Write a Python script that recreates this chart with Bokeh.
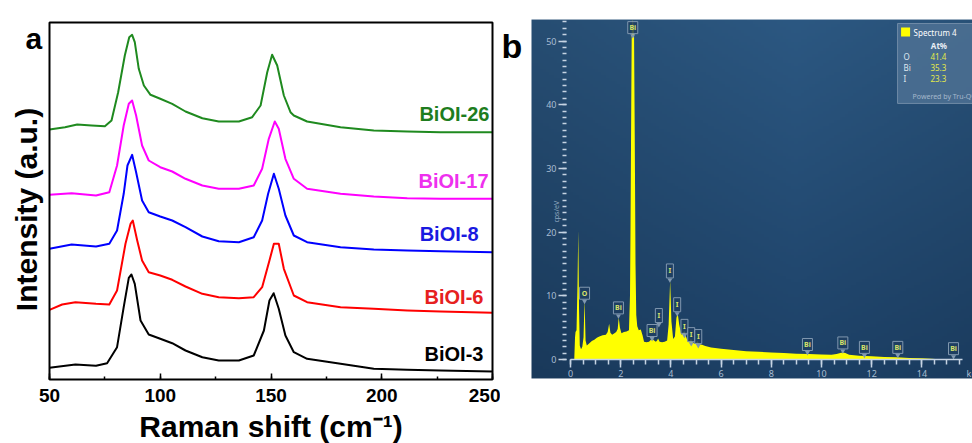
import numpy as np
from bokeh.plotting import figure
from bokeh.models import Range1d, SingleIntervalTicker, FixedTicker, LinearAxis
from bokeh.layouts import row
from bokeh.embed import file_html
from bokeh.resources import INLINE
from bokeh.core.properties import value

# ---------------- Raman spectra (stacked, a.u.) ----------------
bioi3_x = [50, 61.7, 71, 76, 80.5, 83.5, 85.8, 87, 88.5, 91.1, 94.8, 100, 105.4, 111.4, 119,
           126.4, 135.5, 142.2, 146.8, 149.3, 151.2, 153.5, 156.5, 160.3, 166.3, 181.4, 196.4,
           211.5, 226.5, 250]
bioi3_y = [11.7, 15, 13.7, 16.3, 32.3, 72.3, 101.7, 105, 95.7, 59, 45, 40.7, 36.3, 29, 22.3,
           19, 19, 24, 49, 79, 86.3, 70.7, 44, 27.3, 20.7, 15.7, 10.7, 9.7, 9, 8]

bioi6_x = [50, 55.7, 61.7, 71, 77, 80.5, 84.3, 86.6, 87.6, 89.6, 91.8, 94.8, 100, 105.4, 111.4,
           119, 126.4, 135.5, 142.2, 146, 149.3, 151.3, 153.5, 155.8, 160.3, 166.3, 181.4, 196.4,
           211.5, 226.5, 250]
bioi6_y = [69.7, 75, 77.3, 75.7, 75, 89, 135.7, 155.7, 159, 139, 119, 107.3, 104, 99.7, 93,
           85.7, 82.3, 81.3, 82.3, 92.3, 119, 135.7, 135.7, 110.7, 84, 77.3, 72.3, 70.7,
           69, 68, 66.7]

bioi8_x = [50, 60, 71, 77, 80.5, 83.5, 85.2, 87.3, 89.1, 91.8, 94.8, 100, 105.4, 111.4, 119,
           126.4, 135.5, 142.2, 146, 148.7, 151.3, 153.5, 156.5, 160.3, 166.3, 181.4, 196.4,
           211.5, 226.5, 250]
bioi8_y = [130.7, 135, 133, 135.7, 149, 185.7, 214, 224.7, 207.3, 179, 167.3, 163, 159, 152.3,
           143, 138.3, 137.3, 142.3, 159, 185.7, 205.7, 190.7, 164, 144, 137.3, 132.3, 130,
           129, 128.3, 127.3]

bioi17_x = [50, 60, 71, 77, 80.5, 83.5, 85.8, 87.3, 89.1, 91.8, 94.8, 100, 105.4, 111.4, 119,
            126.4, 135.5, 142.2, 146, 149, 151.7, 153.5, 156.5, 160.3, 166.3, 181.4, 196.4,
            211.5, 226.5, 250]
bioi17_y = [184.7, 186.3, 184, 187.3, 214, 254, 275.7, 279, 264, 234, 219, 212.3, 208, 200.7,
            194, 190.7, 190.7, 194, 210.7, 240.7, 258, 250.7, 220.7, 200.7, 190.7, 185.7, 183,
            181.3, 180.7, 180.7]

bioi26_x = [50, 57, 62.5, 69, 75, 78, 81, 84, 86, 87.3, 88.5, 90.3, 92.6, 95.6, 100, 105.4,
            111.4, 119, 126.4, 135.5, 141.5, 145.3, 148.3, 150.5, 152.8, 155.8, 158.8, 160.3,
            166.3, 181.4, 196.4, 211.5, 226.5, 250]
bioi26_y = [250, 252.3, 255, 254, 253.3, 259, 287.3, 324, 342.3, 344.7, 337.3, 310.7, 294,
            284.7, 280.7, 275.7, 268, 261.3, 258, 258, 262.3, 274, 307.3, 324.7, 314, 284,
            267.3, 264, 258, 252.3, 249, 248, 247.3, 247.3]

sample_names = ["BiOI-3", "BiOI-6", "BiOI-8", "BiOI-17", "BiOI-26"]
line_colors = ["#000000", "#ff0000", "#0000ff", "#ff00ff", "#1f8a1f"]
label_colors = ["#000000", "#e62020", "#1a1ae0", "#ee30ee", "#1e7d1e"]
label_x = [245.9, 245.9, 243.7, 248.2, 248.6]
label_y = [26, 83, 146, 199, 266]

# ---------------- EDS spectrum ----------------
eds_energy = [0.15, 0.18, 0.20, 0.24, 0.28, 0.31, 0.34, 0.37, 0.42, 0.47,
              0.52, 0.56, 0.60, 0.65, 0.74, 0.85, 0.95, 1.05, 1.15, 1.28,
              1.41, 1.48, 1.54, 1.59, 1.66, 1.75, 1.82, 1.88, 1.92, 1.97,
              2.03, 2.13, 2.23, 2.33, 2.37, 2.39, 2.42, 2.44, 2.48, 2.53,
              2.56, 2.59, 2.62, 2.66, 2.72, 2.80, 2.87, 2.93, 3.03, 3.13,
              3.20, 3.26, 3.33, 3.40, 3.45, 3.49, 3.55, 3.65, 3.75, 3.85,
              3.91, 3.97, 4.02, 4.09, 4.16, 4.22, 4.27, 4.33, 4.42, 4.49,
              4.54, 4.60, 4.68, 4.75, 4.80, 4.86, 4.93, 5.00, 5.06, 5.13,
              5.24, 5.37, 5.6, 6.0, 6.5, 7.0, 7.5, 8.0, 8.5, 9.0,
              9.5, 10.0, 10.4, 10.6, 10.75, 10.84, 10.95, 11.1, 11.5, 12.0,
              12.5, 13.0, 13.5, 14.0, 14.4, 14.8]
eds_counts = [0, 3.5, 4.3, 4.6, 12, 20.3, 8, 2.2, 1.6, 2.0,
              3.5, 9.4, 3.0, 2.2, 2.5, 2.9, 3.1, 3.4, 3.6, 3.8,
              3.9, 4.3, 5.6, 4.2, 3.9, 4.1, 4.3, 4.8, 6.6, 5.0,
              4.1, 4.3, 4.4, 4.6, 10, 20, 40, 52, 53.3, 52,
              35, 15, 7, 5.2, 4.6, 4.7, 3.8, 2.8, 2.7, 2.8,
              3.1, 3.3, 3.0, 2.8, 3.0, 3.3, 2.8, 2.7, 2.8, 3.0,
              5.5, 12.4, 6, 3.2, 3.6, 6.5, 7.3, 5.5, 3.9, 4.2,
              4.5, 3.6, 2.8, 2.9, 3.3, 2.7, 2.5, 2.6, 2.9, 2.4,
              2.3, 2.1, 1.9, 1.7, 1.5, 1.3, 1.2, 1.1, 1.0, 0.9,
              0.85, 0.8, 0.75, 0.85, 1.0, 1.1, 1.0, 0.75, 0.6, 0.5,
              0.4, 0.35, 0.25, 0.2, 0.1, 0]

# peak identification tags
tag_energy = [2.48, 0.56, 1.91, 3.25, 3.52, 3.96, 4.25, 4.54, 4.81, 5.09, 9.44, 10.85, 11.71, 13.04, 15.26]
tag_level = [52.1, 10.4, 8.1, 4.55, 6.9, 13.9, 8.6, 5.2, 3.9, 3.6, 2.35, 2.6, 1.9, 1.9, 1.7]
tag_text = ["Bi", "O", "Bi", "Bi", "I", "I", "I", "I", "I", "I", "Bi", "Bi", "Bi", "Bi", "Bi"]

# quantification table
quant_elements = ["O", "Bi", "I"]
quant_at_pct = ["41.4", "35.3", "23.3"]

BOLD = value("Liberation Sans")
UI = value("Noto Sans")

# ================= panel a : Raman =================
# the frame spans the whole canvas; axes sit at fixed data locations
pa = figure(width=500, height=443, x_range=Range1d(27.878, 253.61), y_range=Range1d(-64, 379),
            output_backend="svg", toolbar_location=None,
            x_axis_location=None, y_axis_location=None,
            min_border=0, min_border_left=0, min_border_right=0,
            min_border_top=0, min_border_bottom=0)
pa.xgrid.visible = False
pa.ygrid.visible = False
pa.outline_line_color = None
pa.background_fill_color = "white"

for xs, ys, c in zip([bioi3_x, bioi6_x, bioi8_x, bioi17_x, bioi26_x],
                     [bioi3_y, bioi6_y, bioi8_y, bioi17_y, bioi26_y], line_colors):
    pa.line(xs, ys, line_color=c, line_width=2, line_join="round")

pa.text(x=label_x, y=label_y, text=sample_names, text_color=label_colors,
        text_font=BOLD, text_font_style="bold", text_font_size="20px",
        text_align="right", text_baseline="middle")

raman_x_axis = LinearAxis(fixed_location=0, bounds=(50, 250),
                          ticker=SingleIntervalTicker(interval=50, num_minor_ticks=2))
raman_x_axis.axis_line_color = None
raman_x_axis.major_tick_in = 6
raman_x_axis.major_tick_out = 0
raman_x_axis.minor_tick_in = 3
raman_x_axis.minor_tick_out = 0
raman_x_axis.major_tick_line_width = 1.5
raman_x_axis.minor_tick_line_width = 1.5
raman_x_axis.major_label_text_font = "Liberation Sans"
raman_x_axis.major_label_text_font_style = "bold"
raman_x_axis.major_label_text_font_size = "19px"
raman_x_axis.major_label_text_color = "black"
raman_x_axis.major_label_standoff = 9
raman_x_axis.axis_label = "Raman shift (cm\u207b\u00b9)"
raman_x_axis.axis_label_text_font = "Liberation Sans"
raman_x_axis.axis_label_text_font_style = "bold"
raman_x_axis.axis_label_text_font_size = "30px"
raman_x_axis.axis_label_text_color = "black"
raman_x_axis.axis_label_standoff = 5
pa.add_layout(raman_x_axis, "below")

raman_y_axis = LinearAxis(fixed_location=50, bounds=(0, 340), ticker=FixedTicker(ticks=[]))
raman_y_axis.axis_line_color = None
raman_y_axis.major_tick_line_color = None
raman_y_axis.minor_tick_line_color = None
raman_y_axis.axis_label = "Intensity (a.u.)"
raman_y_axis.axis_label_text_font = "Liberation Sans"
raman_y_axis.axis_label_text_font_style = "bold"
raman_y_axis.axis_label_text_font_size = "30px"
raman_y_axis.axis_label_text_color = "black"
raman_y_axis.axis_label_standoff = 7
pa.add_layout(raman_y_axis, "left")

# plot box
pa.quad(left=[50], right=[250], bottom=[0], top=[357], fill_color=None,
        line_color="black", line_width=2)

pa.text(x=[39.2], y=[341], text=["a"], text_font=BOLD, text_font_style="bold",
        text_font_size="30px", text_color="black", text_baseline="alphabetic")

# ================= panel b : EDS =================
pb = figure(width=472, height=443, x_range=Range1d(-2.789, 16.016), y_range=Range1d(-13.19, 56.36),
            output_backend="svg", toolbar_location=None,
            x_axis_location=None, y_axis_location=None,
            min_border=0, min_border_left=0, min_border_right=0,
            min_border_top=0, min_border_bottom=0)
pb.xgrid.visible = False
pb.ygrid.visible = False
pb.outline_line_color = None
pb.background_fill_color = "white"

# dark blue backdrop with a soft vertical/horizontal shading
H, W = 120, 160
yy = np.linspace(0, 1, H)[:, None]          # 0 bottom .. 1 top
xx = np.linspace(0, 1, W)[None, :]
top = np.array([44, 88, 130], dtype=float)
bot = np.array([29, 65, 103], dtype=float)
shade = 1.0 - 0.10 * np.abs(xx - 0.6) * 2.0
rgb = (bot[None, None, :] + (top - bot)[None, None, :] * yy[..., None]) * shade[..., None]
rgb = np.clip(rgb, 0, 255).astype(np.uint32)
img = (255 << 24) | (rgb[..., 2] << 16) | (rgb[..., 1] << 8) | rgb[..., 0]
pb.image_rgba(image=[img.astype(np.uint32)], x=-1.554, y=-2.98, dw=17.57, dh=56.35)

pb.varea(x=eds_energy, y1=[0] * len(eds_energy), y2=eds_counts, fill_color="#ffff00")

eds_y_axis = LinearAxis(fixed_location=-0.16, bounds=(0, 53.4),
                        ticker=SingleIntervalTicker(interval=10, num_minor_ticks=10))
eds_y_axis.axis_line_color = None
eds_y_axis.major_tick_out = 8
eds_y_axis.major_tick_in = 0
eds_y_axis.minor_tick_out = 4
eds_y_axis.minor_tick_in = 0
eds_y_axis.major_tick_line_color = "#c6d4e3"
eds_y_axis.minor_tick_line_color = "#c6d4e3"
eds_y_axis.major_tick_line_width = 1.5
eds_y_axis.minor_tick_line_width = 1.5
eds_y_axis.major_label_text_font = "Noto Sans"
eds_y_axis.major_label_text_font_size = "9px"
eds_y_axis.major_label_text_color = "#a9bdd2"
eds_y_axis.major_label_standoff = 2
pb.add_layout(eds_y_axis, "left")

eds_x_axis = LinearAxis(fixed_location=0, bounds=(0, 15.6),
                        ticker=SingleIntervalTicker(interval=2, num_minor_ticks=4))
eds_x_axis.axis_line_color = "#c6d4e3"
eds_x_axis.axis_line_width = 1.5
eds_x_axis.major_tick_out = 8
eds_x_axis.major_tick_in = 0
eds_x_axis.minor_tick_out = 5
eds_x_axis.minor_tick_in = 0
eds_x_axis.major_tick_line_color = "#c6d4e3"
eds_x_axis.minor_tick_line_color = "#c6d4e3"
eds_x_axis.major_tick_line_width = 1.5
eds_x_axis.minor_tick_line_width = 1.5
eds_x_axis.major_label_text_font = "Noto Sans"
eds_x_axis.major_label_text_font_size = "9px"
eds_x_axis.major_label_text_color = "#a9bdd2"
eds_x_axis.major_label_standoff = 3
pb.add_layout(eds_x_axis, "below")

pb.text(x=[15.78], y=[-2.2], text=["keV"], text_font=UI, text_font_size="9px",
        text_color="#a9bdd2", text_baseline="middle")
pb.text(x=[-0.55], y=[23.2], text=["cps/eV"], angle=np.pi / 2, text_font=UI,
        text_font_size="7px", text_color="#8ea6bf", text_align="center", text_baseline="middle")

# peak tags
tag_w = [7 if t == "I" else 10 for t in tag_text]
tag_h = [14 if t == "I" else 12 for t in tag_text]
pb.rect(x=tag_energy, y=tag_level, width=tag_w, height=tag_h,
        width_units="screen", height_units="screen",
        fill_color="#1e3e62", fill_alpha=0.85, line_color="#8198b0", line_width=1)
tip_y = [lv - (h / 2 + 2) / 6.37 for lv, h in zip(tag_level, tag_h)]
pb.scatter(x=tag_energy, y=tip_y, marker="inverted_triangle", size=5,
           fill_color="#8198b0", line_color=None)
pb.text(x=tag_energy, y=tag_level, text=tag_text, text_font=UI, text_font_size="7px",
        text_font_style="bold", text_color="#d8e36a", text_align="center", text_baseline="middle")

# quantification box
pb.quad(left=[13.03], right=[16.3], top=[52.75], bottom=[40.2],
        fill_color="#56779a", fill_alpha=0.7, line_color="#6f8aa6", line_width=1)
pb.scatter(x=[13.35], y=[51.4], marker="square", size=9, fill_color="#ffff00", line_color=None)
pb.text(x=[13.67], y=[51.3], text=["Spectrum 4"], text_font=UI, text_font_size="8px",
        text_color="#ffffff", text_baseline="middle")
pb.text(x=[14.68], y=[49.3], text=["At%"], text_font=UI, text_font_size="8px",
        text_font_style="bold", text_color="#e8eef5", text_align="center", text_baseline="middle")
row_y = [47.6, 45.9, 44.1]
pb.text(x=[13.27] * 3, y=row_y, text=quant_elements, text_font=UI, text_font_size="8px",
        text_color="#dfe7f0", text_baseline="middle")
pb.text(x=[14.34] * 3, y=row_y, text=quant_at_pct, text_font=UI, text_font_size="8px",
        text_color="#e3ea4a", text_baseline="middle")
pb.text(x=[13.63], y=[41.3], text=["Powered by Tru-Q\u00ae"], text_font=UI, text_font_size="7px",
        text_color="#a5b8cc", text_baseline="middle")

# panel letter
pb.text(x=[-2.75], y=[49.29], text=["b"], text_font=BOLD, text_font_style="bold",
        text_font_size="34px", text_color="black", text_baseline="alphabetic")

layout = row(pa, pb)
open("out.html", "w").write(file_html(layout, INLINE))
